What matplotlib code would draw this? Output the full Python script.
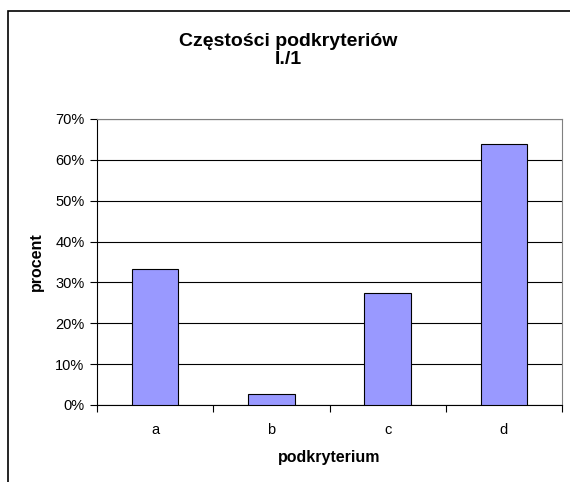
import matplotlib.pyplot as plt
from matplotlib.patches import Rectangle
from matplotlib.ticker import FuncFormatter

plt.rcParams['font.family'] = ['Liberation Sans', 'DejaVu Sans']

# data
categories = ['a', 'b', 'c', 'd']
values = [33.3, 2.7, 27.5, 63.8]
y_ticks = [0, 10, 20, 30, 40, 50, 60, 70]
title_lines = ['Częstości podkryteriów', 'I./1']

W, H = 570, 482
fig = plt.figure(figsize=(W / 100, H / 100), dpi=100)

# chart border (cut off at right and bottom like the source picture)
fig.patches.append(Rectangle((8 / W, -0.1), 1.2, 1 - 10.5 / H - (-0.1),
                             transform=fig.transFigure, fill=False,
                             edgecolor='black', linewidth=1.2))

ax = fig.add_axes([97 / W, 1 - 405 / H, (562 - 97) / W, (405 - 119) / H])
x = range(len(categories))
ax.bar(x, values, width=0.4, color='#9999ff', edgecolor='black', linewidth=0.8, zorder=3)

ax.set_xlim(-0.5, len(categories) - 0.5)
ax.set_ylim(0, 70)
ax.set_yticks(y_ticks)
ax.yaxis.set_major_formatter(FuncFormatter(lambda v, p: f'{v:.0f}%'))
ax.set_xticks(list(x))
ax.set_xticklabels(categories)
ax.set_xticks([i - 0.5 for i in range(len(categories) + 1)], minor=True)
ax.tick_params(axis='x', which='major', length=0, pad=13, labelsize=10.5)
ax.tick_params(axis='x', which='minor', length=5, direction='out', width=0.8)
ax.tick_params(axis='y', length=5, width=0.8, labelsize=10.5, pad=4)

ax.grid(axis='y', color='black', linewidth=0.8, zorder=0)
for side in ['top', 'right']:
    ax.spines[side].set_color('#808080')
for side in ['left', 'bottom']:
    ax.spines[side].set_color('black')
for s in ax.spines.values():
    s.set_linewidth(0.8)

ax.set_ylabel('procent', fontsize=11.5, fontweight='bold', labelpad=8)
ax.set_xlabel('podkryterium', fontsize=11.5, fontweight='bold', labelpad=9)

# title, two lines placed separately
fig.text(288 / W, 1 - 41 / H, title_lines[0], ha='center', va='center',
         fontsize=14, fontweight='bold')
fig.text(288 / W, 1 - 60 / H, title_lines[1], ha='center', va='center',
         fontsize=14, fontweight='bold')

fig.savefig('out.png', dpi=100)
